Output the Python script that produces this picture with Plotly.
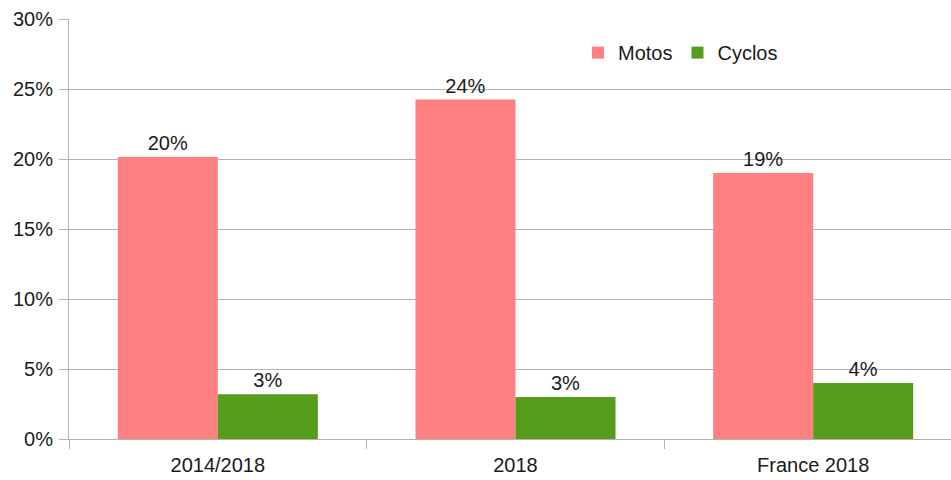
import plotly.graph_objects as go

categories = ["2014/2018", "2018", "France 2018"]
motos = [20.15, 24.25, 19.0]
cyclos = [3.2, 3.0, 4.0]
series_names = ["Motos", "Cyclos"]
y_ticks = [0, 5, 10, 15, 20, 25, 30]
y_tick_labels = [f"{v}%" for v in y_ticks]

FONT = "Liberation Sans, Arial, sans-serif"
FS = 20
TXT = "#1a1a1a"

fig = go.Figure()
fig.add_trace(go.Bar(
    x=categories, y=motos, name=series_names[0],
    marker=dict(color="#ff8080", line=dict(width=0)),
    text=[f"{v:.0f}%" for v in motos], textposition="outside",
    textfont=dict(family=FONT, size=FS, color=TXT), cliponaxis=False,
))
fig.add_trace(go.Bar(
    x=categories, y=cyclos, name=series_names[1],
    marker=dict(color="#579d1c", line=dict(width=0)),
    text=[f"{v:.0f}%" for v in cyclos], textposition="outside",
    textfont=dict(family=FONT, size=FS, color=TXT), cliponaxis=False,
))

fig.update_layout(
    width=962, height=480,
    margin=dict(l=69, r=0, t=19, b=41),
    paper_bgcolor="white", plot_bgcolor="white",
    barmode="group", bargap=0.328, bargroupgap=0,
    font=dict(family=FONT, size=FS, color=TXT),
    showlegend=True,
    legend=dict(orientation="h", x=0.570, y=0.92, xanchor="left", yanchor="middle",
                font=dict(family=FONT, size=FS, color=TXT),
                itemwidth=30, bgcolor="rgba(0,0,0,0)", tracegroupgap=0),
    xaxis=dict(type="category", showgrid=False, showline=True, linecolor="#b3b3b3",
               ticks="outside", tickson="boundaries", ticklen=9, tickcolor="#b3b3b3",
               automargin=False, ticklabelstandoff=8,
               tickfont=dict(family=FONT, size=FS, color=TXT)),
    yaxis=dict(range=[0, 30], tickmode="array", tickvals=y_ticks, ticktext=y_tick_labels,
               showgrid=True, gridcolor="#b3b3b3", gridwidth=1, showline=True,
               linecolor="#b3b3b3", ticks="outside", ticklen=9, tickcolor="#b3b3b3",
               zeroline=False, automargin=False, ticklabelstandoff=2,
               tickfont=dict(family=FONT, size=FS, color=TXT)),
)
fig.write_html("out.html", config={"displayModeBar": False},
               post_script="document.body.style.margin='0';document.body.style.overflow='hidden';")
